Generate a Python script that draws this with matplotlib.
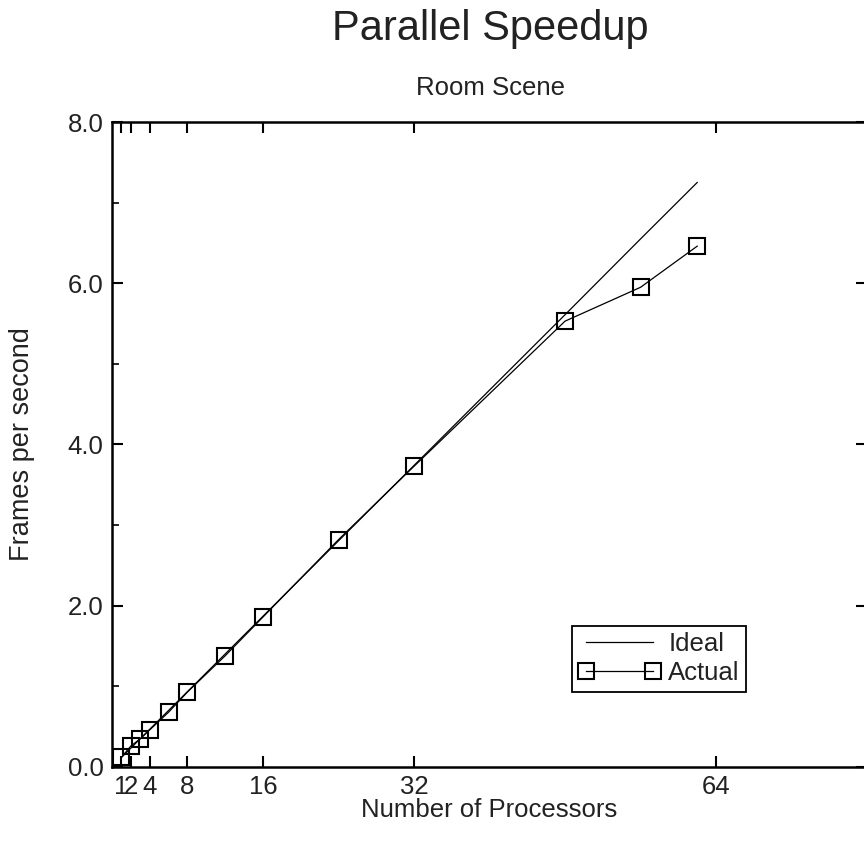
import matplotlib
matplotlib.use("Agg")
from matplotlib import pyplot as plt
from matplotlib.ticker import MultipleLocator

plt.rcParams["font.family"] = ["Liberation Sans", "DejaVu Sans"]
plt.rcParams["text.color"] = "#222222"

# values
processors = [1, 2, 3, 4, 6, 8, 12, 16, 24, 32, 48, 56, 62]
actual_fps = [0.12, 0.26, 0.35, 0.46, 0.68, 0.93, 1.38, 1.86, 2.82, 3.73, 5.53, 5.95, 6.46]
ideal_procs = [1, 2, 4, 8, 16, 32, 48, 56, 62]
ideal_fps = [0.117, 0.234, 0.468, 0.935, 1.87, 3.74, 5.61, 6.55, 7.25]
xtick_vals = [1, 2, 4, 8, 16, 32, 64]
ytick_vals = [0.0, 2.0, 4.0, 6.0, 8.0]

fig = plt.figure(figsize=(8.64, 8.42), dpi=100)
ax = fig.add_axes([0.1296, 0.0891, 0.874, 0.766])

ax.plot(ideal_procs, ideal_fps, color="black", lw=0.9, label="Ideal")
ax.plot(processors, actual_fps, color="black", lw=0.9, marker="s", markersize=12,
        markerfacecolor="none", markeredgecolor="black", markeredgewidth=1.5,
        label="Actual")

ax.set_xlim(0, 80)
ax.set_ylim(0, 8)
ax.set_xticks(xtick_vals)
ax.set_xticklabels([str(v) for v in xtick_vals])
ax.set_yticks(ytick_vals)
ax.set_yticklabels(["%.1f" % v for v in ytick_vals])
ax.yaxis.set_minor_locator(MultipleLocator(1.0))

ax.tick_params(axis="both", which="major", direction="in", length=8, width=1.5,
               labelsize=18.5, top=True, right=True, pad=6,
               labelcolor="#222222")
ax.tick_params(axis="y", which="minor", direction="in", length=5, width=1.2,
               left=True, right=False)
for s in ax.spines.values():
    s.set_linewidth(1.8)

ax.set_xlabel("Number of Processors", fontsize=18.5, labelpad=-1, color="#222222")
ax.set_ylabel("Frames per second", fontsize=19.5, color="#222222")
ax.yaxis.set_label_coords(-0.102, 0.5)

fig.text(0.567, 0.966, "Parallel Speedup", ha="center", va="center", fontsize=30)
fig.text(0.568, 0.895, "Room Scene", ha="center", va="center", fontsize=18.5)

leg = ax.legend(loc="upper left", bbox_to_anchor=(0.609, 0.219), fontsize=18.5,
                numpoints=2, handlelength=3.2, handletextpad=0.3,
                borderpad=0.25, labelspacing=0.2, fancybox=False,
                framealpha=1, edgecolor="black", borderaxespad=0)
leg.get_frame().set_linewidth(1.3)

fig.savefig("out.png", dpi=100)
